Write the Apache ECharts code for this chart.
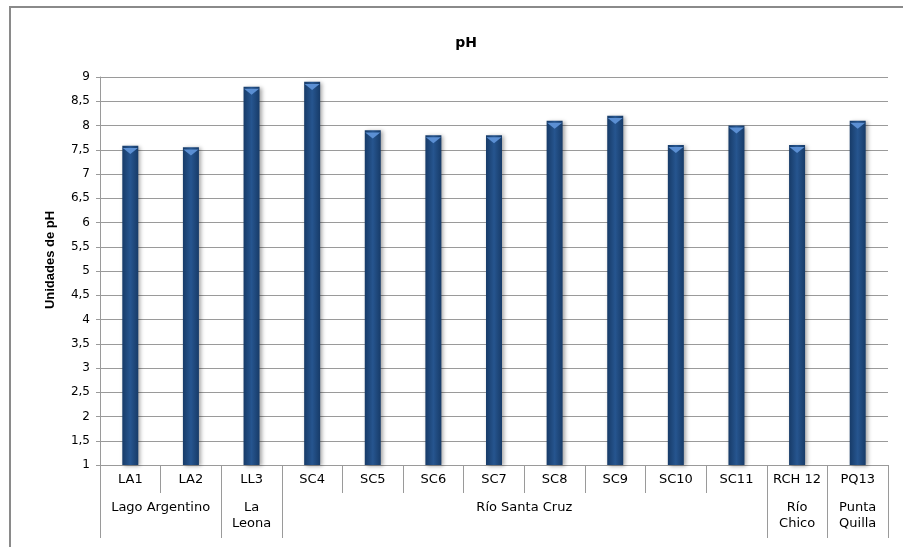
<!DOCTYPE html>
<html>
<head>
<meta charset="utf-8">
<script src="https://cdn.jsdelivr.net/npm/echarts@6/dist/echarts.min.js"></script>
<style>
  html, body { margin: 0; padding: 0; background: #fff; }
  #myChart { width: 903px; height: 547px; }
</style>
</head>
<body>
<div id="myChart"></div>
<script>
// estaciones y valores de pH
var estaciones = ['LA1', 'LA2', 'LL3', 'SC4', 'SC5', 'SC6', 'SC7', 'SC8', 'SC9', 'SC10', 'SC11', 'RCH 12', 'PQ13'];
var valoresPH = [7.58, 7.55, 8.8, 8.9, 7.9, 7.8, 7.8, 8.1, 8.2, 7.6, 8.0, 7.6, 8.1];
// grupos (nombre, primera estacion, cantidad)
var grupos = ['Lago Argentino', 'La\nLeona', 'Río Santa Cruz', 'Río\nChico', 'Punta\nQuilla'];
var grupoInicio = [0, 2, 3, 11, 12];
var grupoLargo = [2, 1, 8, 1, 1];

var limites = grupoInicio.concat([estaciones.length]);
var centros = grupoInicio.map(function (s, i) { return s + grupoLargo[i] / 2; });
var separadores = [];
for (var i = 0; i <= estaciones.length; i++) separadores.push(i);

var fuente = 'DejaVu Sans';
var fuenteNegrita = 'Liberation Sans';
var gris = '#9a9a9a';

var myChart = echarts.init(document.getElementById('myChart'));
var option = {
    textStyle: { fontFamily: fuente },
    animation: false,
    title: {
        text: 'pH',
        left: 461,
        top: 31,
        textAlign: 'center',
        textStyle: { fontSize: 14, fontWeight: 'bold', color: '#000', fontFamily: fuente }
    },
    graphic: [{
        type: 'rect',
        shape: { x: 10, y: 7, width: 1000, height: 1000 },
        style: { fill: 'none', stroke: '#8a8a8a', lineWidth: 2 },
        silent: true
    }],
    grid: { left: 100, right: 15, top: 77, bottom: 82 },
    xAxis: [{
        type: 'category',
        data: estaciones,
        axisLine: { lineStyle: { color: gris } },
        axisTick: { show: false },
        axisLabel: { interval: 0, margin: 8, fontSize: 13, color: '#000', fontFamily: fuente }
    }, {
        // separadores de la primera fila
        type: 'value',
        min: 0,
        max: estaciones.length,
        position: 'bottom',
        splitLine: { show: false },
        axisLine: { show: false },
        axisTick: { show: true, customValues: separadores, length: 28, lineStyle: { color: gris } },
        axisLabel: { show: false }
    }, {
        // grupos
        type: 'value',
        min: 0,
        max: estaciones.length,
        position: 'bottom',
        splitLine: { show: false },
        axisLine: { show: false },
        axisTick: { show: true, customValues: limites, length: 73, lineStyle: { color: gris } },
        axisLabel: {
            customValues: centros,
            margin: 35,
            fontSize: 13,
            lineHeight: 16,
            color: '#000',
            fontFamily: fuente,
            formatter: function (v) {
                var i = centros.indexOf(v);
                return i >= 0 ? grupos[i] : '';
            }
        }
    }],
    yAxis: {
        type: 'value',
        min: 1,
        max: 9,
        interval: 0.5,
        startValue: 1,
        name: 'Unidades de pH',
        nameLocation: 'middle',
        nameGap: 43,
        nameTextStyle: {
            fontSize: 13, fontWeight: 'bold', color: '#000', fontFamily: fuenteNegrita,
            padding: [0, 0, 0, 22]
        },
        axisLine: { show: true, lineStyle: { color: gris } },
        axisTick: { show: true, length: 4, lineStyle: { color: gris } },
        splitLine: { lineStyle: { color: gris } },
        axisLabel: {
            margin: 10,
            fontSize: 12,
            color: '#000',
            fontFamily: fuente,
            formatter: function (v) { return String(v).replace('.', ','); }
        }
    },
    series: [{
        type: 'bar',
        data: valoresPH,
        barWidth: 16,
        itemStyle: {
            color: new echarts.graphic.LinearGradient(0, 0, 1, 0, [
                { offset: 0, color: '#173b68' },
                { offset: 0.5, color: '#26558f' },
                { offset: 1, color: '#173b68' }
            ]),
            shadowColor: 'rgba(0,0,0,0.35)',
            shadowBlur: 4,
            shadowOffsetX: 2,
            shadowOffsetY: 1
        }
    }, {
        type: 'pictorialBar',
        data: valoresPH,
        symbol: 'path://M0,0 L10,0 L5,4 Z',
        symbolSize: [15, 6],
        symbolPosition: 'end',
        symbolOffset: [0, '35%'],
        z: 3,
        itemStyle: { color: '#5b8fd3' }
    }]
};
myChart.setOption(option);
</script>
</body>
</html>
